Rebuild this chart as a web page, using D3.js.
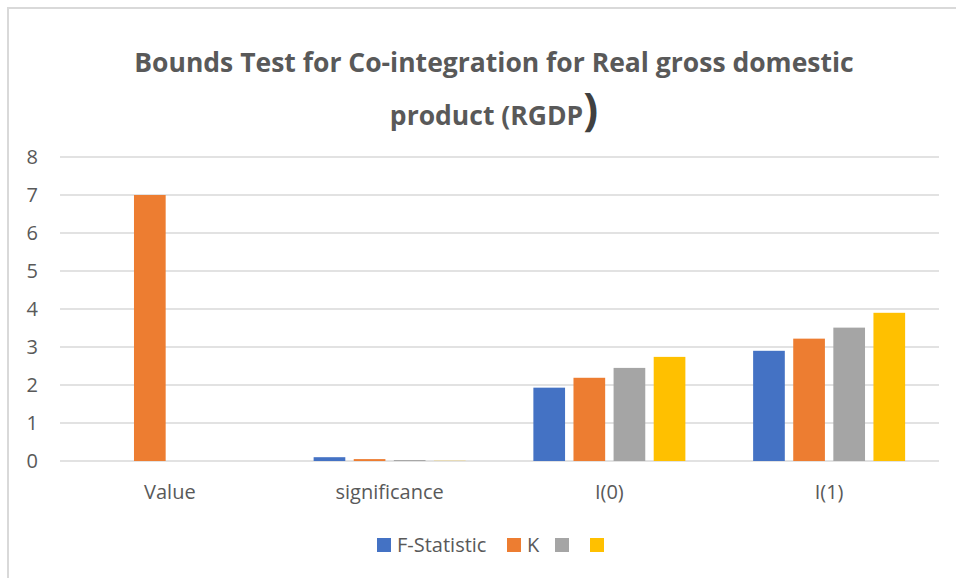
<!DOCTYPE html>
<html>
<head>
<meta charset="utf-8">
<script src="https://cdn.jsdelivr.net/npm/d3@7"></script>
<style>
  body { margin: 0; background: #fff; }
  text { font-family: "Open Sans", "Noto Sans", sans-serif; }
</style>
</head>
<body>
<div id="chart"></div>
<script>
// data
categories = ["Value", "significance", "I(0)", "I(1)"]
seriesNames = ["F-Statistic", "K", "", ""]
seriesColors = ["#4472c4", "#ed7d31", "#a5a5a5", "#ffc000"]
fStatistic = [0, 0.1, 1.93, 2.9]
kValues = [7, 0.05, 2.19, 3.22]
series3 = [0, 0.025, 2.45, 3.51]
series4 = [0, 0.005, 2.74, 3.9]
yTicks = [0, 1, 2, 3, 4, 5, 6, 7, 8]

allSeries = [fStatistic, kValues, series3, series4]

width = 956
height = 578
plot = { left: 60, right: 939, top: 157, bottom: 461 }
labelSize = 20

svg = d3.select("#chart").append("svg")
  .attr("width", width)
  .attr("height", height)

// chart frame
svg.append("path")
  .attr("d", "M8," + height + " L8,8 L" + width + ",8")
  .attr("fill", "none")
  .attr("stroke", "#d9d9d9")
  .attr("stroke-width", 2)

title = svg.append("text")
  .attr("text-anchor", "middle")
  .attr("fill", "#595959")
  .attr("font-weight", "bold")
  .attr("font-size", 26.5)
title.append("tspan").attr("x", 494).attr("y", 72)
  .text("Bounds Test for Co-integration for Real gross domestic")
line2 = title.append("tspan").attr("x", 494).attr("y", 125)
line2.append("tspan").text("product (RGDP")
line2.append("tspan").attr("font-size", 44).attr("fill", "#404040").text(")")

x0 = d3.scaleBand().domain(categories).range([plot.left, plot.right])
x1 = d3.scaleBand().domain(d3.range(4)).range([0, 152]).paddingInner(0.21)
y = d3.scaleLinear().domain([0, 8]).range([plot.bottom, plot.top])

// gridlines
svg.append("g")
  .selectAll("line")
  .data(yTicks)
  .enter().append("line")
  .attr("x1", plot.left).attr("x2", plot.right)
  .attr("y1", function(d) { return y(d) }).attr("y2", function(d) { return y(d) })
  .attr("stroke", "#d9d9d9")
  .attr("stroke-width", 1.5)

// y labels
svg.append("g")
  .selectAll("text")
  .data(yTicks)
  .enter().append("text")
  .attr("x", 38)
  .attr("y", function(d) { return y(d) + 7 })
  .attr("text-anchor", "end")
  .attr("fill", "#595959")
  .attr("font-size", labelSize)
  .text(function(d) { return d })

// bars
groups = svg.append("g")
  .selectAll("g")
  .data(categories)
  .enter().append("g")
  .attr("transform", function(d) {
    return "translate(" + (x0(d) + x0.bandwidth() / 2 - 76) + ",0)"
  })

groups.selectAll("rect")
  .data(function(d, i) {
    return allSeries.map(function(s, j) { return { s: j, v: s[i] } })
  })
  .enter().append("rect")
  .attr("x", function(d) { return x1(d.s) })
  .attr("width", x1.bandwidth())
  .attr("y", function(d) { return y(d.v) })
  .attr("height", function(d) { return y(0) - y(d.v) })
  .attr("fill", function(d) { return seriesColors[d.s] })

// category labels
svg.append("g")
  .selectAll("text")
  .data(categories)
  .enter().append("text")
  .attr("x", function(d) { return x0(d) + x0.bandwidth() / 2 })
  .attr("y", 499)
  .attr("text-anchor", "middle")
  .attr("fill", "#595959")
  .attr("font-size", labelSize)
  .text(function(d) { return d })

// legend
legendX = [377, 507, 555, 590]
legend = svg.append("g")
  .selectAll("g")
  .data(seriesNames)
  .enter().append("g")
  .attr("transform", function(d, i) { return "translate(" + legendX[i] + ",538)" })
legend.append("rect")
  .attr("width", 14).attr("height", 14)
  .attr("fill", function(d, i) { return seriesColors[i] })
legend.append("text")
  .attr("x", 20).attr("y", 14)
  .attr("fill", "#595959")
  .attr("font-size", labelSize)
  .text(function(d) { return d })
</script>
</body>
</html>
